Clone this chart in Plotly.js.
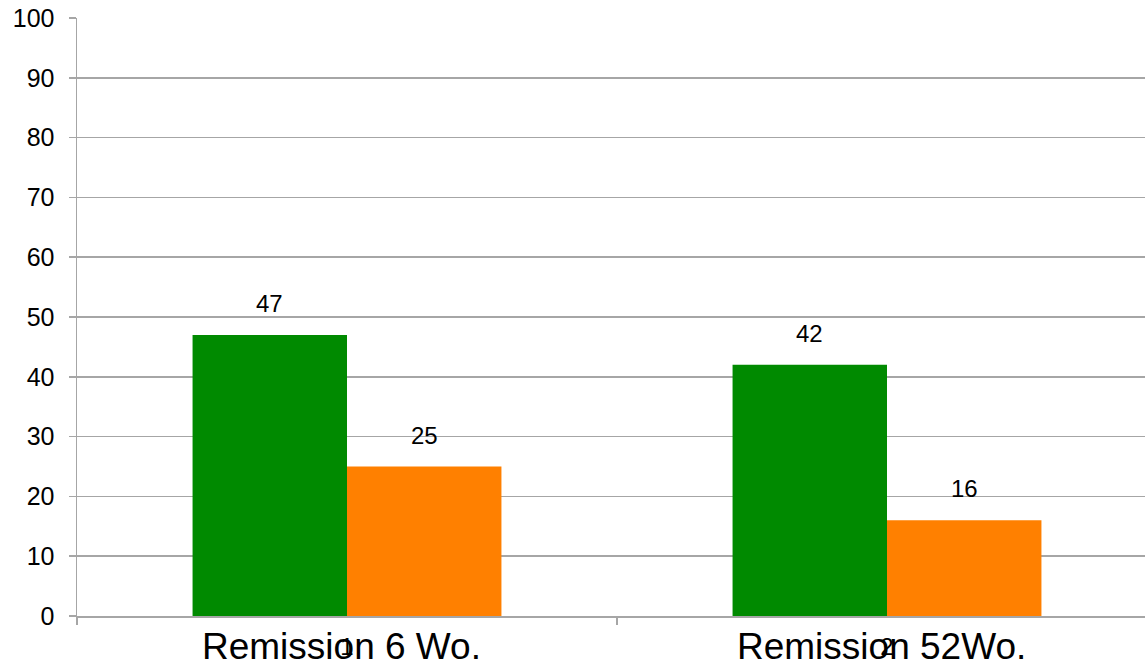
<!DOCTYPE html>
<html>
<head>
<meta charset="utf-8">
<script src="https://cdn.plot.ly/plotly-3.0.1.min.js"></script>
<style>
html,body{margin:0;padding:0;overflow:hidden;background:#fff;}
#chart{width:1160px;height:666px;}
</style>
</head>
<body>
<div id="chart"></div>
<script>
// Data
const categories = ["1", "2"];
const categoryLabels = ["Remission 6 Wo.", "Remission 52Wo."];
const seriesGreen = [47, 42];
const seriesOrange = [25, 16];

const green = "#008a00";
const orange = "#ff8000";
const gridColor = "#a6a6a6";
const font = "Liberation Sans, Arial, sans-serif";
const bargap = 0.428;
const barW = (1 - bargap) / 2;

const traces = [
  {type: "bar", x: categories, y: seriesGreen, marker: {color: green}, name: "A", hoverinfo: "none"},
  {type: "bar", x: categories, y: seriesOrange, marker: {color: orange}, name: "B", hoverinfo: "none"}
];

const annotations = [];
[seriesGreen, seriesOrange].forEach((s, si) => {
  s.forEach((v, i) => {
    annotations.push({
      x: i + (si === 0 ? -barW / 2 : barW / 2), xref: "x",
      y: v, yref: "y", yanchor: "bottom",
      yshift: 16, showarrow: false,
      text: String(v),
      font: {family: font, size: 24, color: "#000"}
    });
  });
});
categoryLabels.forEach((t, i) => {
  annotations.push({
    x: i, xref: "x", xshift: -6,
    y: 0, yref: "paper", yanchor: "middle", yshift: -30,
    showarrow: false, text: t,
    font: {family: font, size: 37, color: "#000"}
  });
});

const layout = {
  width: 1160, height: 666,
  margin: {l: 77, r: 3, t: 17.5, b: 50.3},
  paper_bgcolor: "#fff", plot_bgcolor: "#fff",
  showlegend: false,
  barmode: "group", bargap: bargap, bargroupgap: 0,
  font: {family: font, color: "#000"},
  xaxis: {
    type: "category", tickson: "boundaries",
    ticks: "outside", ticklen: 7, tickcolor: gridColor, tickwidth: 1.5,
    showline: true, linecolor: gridColor, linewidth: 1.5,
    showgrid: false, zeroline: false,
    tickfont: {family: font, size: 24, color: "#000"},
    ticklabelstandoff: 9,
    fixedrange: true
  },
  yaxis: {
    range: [0, 100], dtick: 10, tick0: 0,
    ticks: "outside", ticklen: 7, tickcolor: gridColor, tickwidth: 1.5,
    showline: true, linecolor: gridColor, linewidth: 1.5,
    showgrid: true, gridcolor: gridColor, gridwidth: 1.5,
    zeroline: false,
    tickfont: {family: font, size: 25, color: "#000"},
    ticklabelstandoff: 9,
    fixedrange: true
  },
  annotations: annotations
};

Plotly.newPlot("chart", traces, layout, {displayModeBar: false, staticPlot: true});
</script>
</body>
</html>
